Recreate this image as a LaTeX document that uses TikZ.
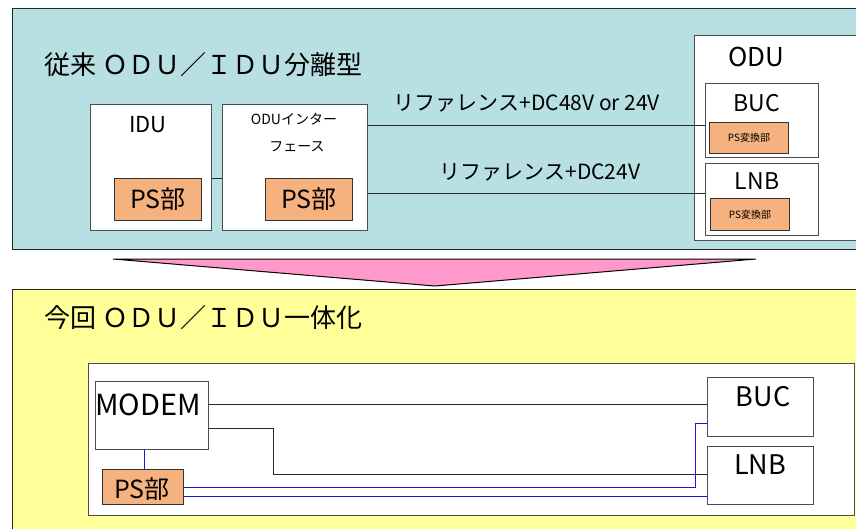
\documentclass[tikz,border=0pt]{standalone}
\usepackage{fontspec}
\setmainfont{Noto Sans CJK JP}
\usetikzlibrary{calc}
\definecolor{bluebg}{RGB}{184,223,226}
\definecolor{yellowbg}{RGB}{255,255,153}
\definecolor{psorange}{RGB}{246,178,126}
\definecolor{arrowpink}{RGB}{255,153,204}
\definecolor{wiregray}{RGB}{40,40,40}
\definecolor{wireblue}{RGB}{20,20,240}
\tikzset{
  panel/.style={draw=black!85, line width=1pt},
  unitbox/.style={draw=black!70, fill=white, line width=1pt, inner sep=0pt, anchor=north west},
  psbox/.style={draw=black!80, fill=psorange, line width=1pt, inner sep=0pt, anchor=north west},
  wire/.style={draw=wiregray, line width=1pt},
  bwire/.style={draw=wireblue, line width=0.9pt},
  txt/.style={inner sep=0pt, text=black},
}
\begin{document}
\begin{tikzpicture}[x=1pt,y=-1pt]
\useasboundingbox (0,0) rectangle (856,528);
% panels
\draw[panel, fill=bluebg] (12,8) rectangle (862,249);
\draw[panel, fill=yellowbg] (12,289) rectangle (862,535);
% arrow
\draw[fill=arrowpink, draw=black, line width=1pt, line join=miter] (113,259) -- (756,259) -- (435,286) -- cycle;
% titles
\node[txt, anchor=west, font=\fontsize{26}{31}\selectfont] (title1) at (44,65) {従来 ＯＤＵ／ＩＤＵ分離型};
\node[txt, anchor=west, font=\fontsize{26}{31}\selectfont] (title2) at (44,318) {今回 ＯＤＵ／ＩＤＵ一体化};

% ---------- top part ----------
\node[unitbox, minimum width=121pt, minimum height=126pt] (idu) at (90,104) {};
\node[txt, font=\fontsize{22}{26}\selectfont] (idulbl) at (148,125) {IDU};
\node[psbox, minimum width=87pt, minimum height=42pt] (idups) at (114,178) {};
\node[txt, font=\fontsize{25}{30}\selectfont] (idupstxt) at (idups.center) {PS部};

\node[unitbox, minimum width=145pt, minimum height=126pt] (oif) at (222,104) {};
\node[txt, font=\fontsize{14}{17}\selectfont] (oiflbl1) at (294,119) {ODUインター};
\node[txt, font=\fontsize{14}{17}\selectfont] (oiflbl2) at (297,147) {フェース};
\node[psbox, minimum width=87pt, minimum height=42pt] (oifps) at (265,178) {};
\node[txt, font=\fontsize{25}{30}\selectfont] (oifpstxt) at (oifps.center) {PS部};

\draw[wire] (idups.north -| idu.east) -- (idups.north -| oif.west);

\node[unitbox, minimum width=168pt, minimum height=205pt] (odu) at (694,35) {};
\node[txt, font=\fontsize{26}{30}\selectfont] (odulbl) at (756,57) {ODU};
\node[unitbox, minimum width=113pt, minimum height=74pt] (buc) at (705,83) {};
\node[txt, font=\fontsize{23}{27}\selectfont] (buclbl) at (757,103) {BUC};
\node[psbox, minimum width=79pt, minimum height=31pt] (bucps) at (709,122) {};
\node[txt, font=\fontsize{10}{12}\selectfont] (bucpstxt) at (bucps.center) {PS変換部};
\node[unitbox, minimum width=113pt, minimum height=72pt] (lnb) at (705,163) {};
\node[txt, font=\fontsize{23}{27}\selectfont] (lnblbl) at (757,181) {LNB};
\node[psbox, minimum width=79pt, minimum height=32pt] (lnbps) at (710,198) {};
\node[txt, font=\fontsize{10}{12}\selectfont] (lnbpstxt) at (lnbps.center) {PS変換部};

\draw[wire] ([yshift=-21pt]oif.north east) -- ([yshift=-21pt]oif.north east -| buc.west);
\draw[wire] ([yshift=-89pt]oif.north east) -- ([yshift=-89pt]oif.north east -| lnb.west);
\node[txt, font=\fontsize{21}{25}\selectfont] (ref1) at (527,103) {リファレンス+DC48V or 24V};
\node[txt, font=\fontsize{21}{25}\selectfont] (ref2) at (540,172) {リファレンス+DC24V};

% ---------- bottom part ----------
\node[unitbox, minimum width=766pt, minimum height=152pt] (inner) at (88,363) {};
\node[unitbox, minimum width=113pt, minimum height=68pt] (modem) at (95,381) {};
\node[txt, font=\fontsize{29}{34}\selectfont] (modemlbl) at (148,405) {MODEM};
\node[psbox, minimum width=81pt, minimum height=35pt] (ps2) at (102,469) {};
\node[txt, font=\fontsize{25}{30}\selectfont, anchor=center] (ps2txt) at (142,489) {PS部};
\node[unitbox, minimum width=106pt, minimum height=59pt] (buc2) at (707,377) {};
\node[txt, font=\fontsize{27}{32}\selectfont] (buc2lbl) at (763,397) {BUC};
\node[unitbox, minimum width=106pt, minimum height=58pt] (lnb2) at (707,446) {};
\node[txt, font=\fontsize{27}{32}\selectfont] (lnb2lbl) at (760,465) {LNB};

\draw[wire] ([yshift=-23pt]modem.north east) -- ([yshift=-23pt]modem.north east -| buc2.west);
\draw[wire] ([yshift=-47pt]modem.north east) -- ([yshift=-47pt,xshift=64pt]modem.north east) |- ([yshift=-28pt]lnb2.north west);
\draw[bwire] ([yshift=-18pt]ps2.north east) -| ([xshift=-12pt,yshift=-46pt]buc2.north west) -- ([yshift=-46pt]buc2.north west);
\draw[bwire] ([yshift=-27pt]ps2.north east) -- ([yshift=-27pt]ps2.north east -| lnb2.west);
\draw[bwire] (ps2.north -| 144,0) -- (modem.south -| 144,0);
\end{tikzpicture}
\end{document}
